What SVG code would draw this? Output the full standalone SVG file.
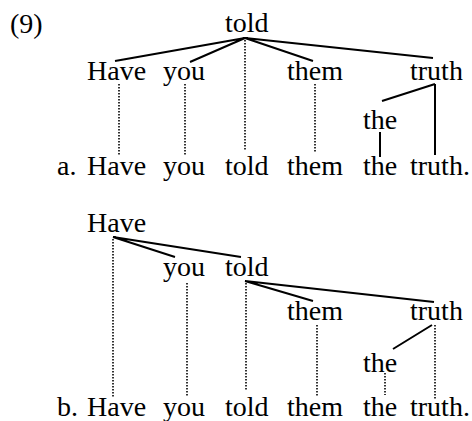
<svg xmlns="http://www.w3.org/2000/svg" width="472" height="421" viewBox="0 0 472 421">
<style>
text{font-family:'Liberation Serif','Times New Roman',Times,'DejaVu Serif',serif;font-size:28px;fill:#000}
.s{stroke:#000;stroke-width:2;fill:none}
.d{stroke:#000;stroke-width:1.6;stroke-dasharray:1.5 1.5;fill:none}
</style>
<rect width="472" height="421" fill="#fff"/>
<g font-family="Liberation Serif, Times New Roman, serif">
<g id="label"><text x="10" y="33">(9)</text></g>
<g id="treeA">
<g id="a-told"><text x="225" y="32">told</text></g>
<g id="a-have"><text x="87" y="80">Have</text></g>
<g id="a-you"><text x="163" y="80">you</text></g>
<g id="a-them"><text x="287" y="80">them</text></g>
<g id="a-truth"><text x="410" y="80">truth</text></g>
<g id="a-the"><text x="363" y="129">the</text></g>
<g id="a-sentence"><text x="57" y="175">a.</text><text x="87" y="175">Have</text><text x="163" y="175">you</text><text x="225" y="175">told</text><text x="287" y="175">them</text><text x="363" y="175">the</text><text x="410" y="175">truth.</text></g>
</g>
<g id="treeB">
<g id="b-have"><text x="87" y="232">Have</text></g>
<g id="b-you"><text x="163" y="276">you</text></g>
<g id="b-told"><text x="225" y="276">told</text></g>
<g id="b-them"><text x="287" y="320">them</text></g>
<g id="b-truth"><text x="410" y="320">truth</text></g>
<g id="b-the"><text x="363" y="372">the</text></g>
<g id="b-sentence"><text x="57" y="416">b.</text><text x="87" y="416">Have</text><text x="163" y="416">you</text><text x="225" y="416">told</text><text x="287" y="416">them</text><text x="363" y="416">the</text><text x="410" y="416">truth.</text></g>
</g>
</g>
<g id="connectors">
<path class="s" d="M245 38L115 61M245 38L190 62M245 38L313 61M245 38L433 58"/>
<path class="s" d="M435 84L382 101M435 84V155M380 132V157"/>
<path class="d" d="M245 40V150M119 84V155M185 84V155M315 84V153"/>
<path class="s" d="M113 237L175 257M113 237L241 257M245 281L313 301M245 281L434 302M432 325L393 349"/>
<path class="d" d="M113 239V397M187 283V397M246 283V390M317 325V397M435 325V400M385 373V395"/>
</g>
</svg>
